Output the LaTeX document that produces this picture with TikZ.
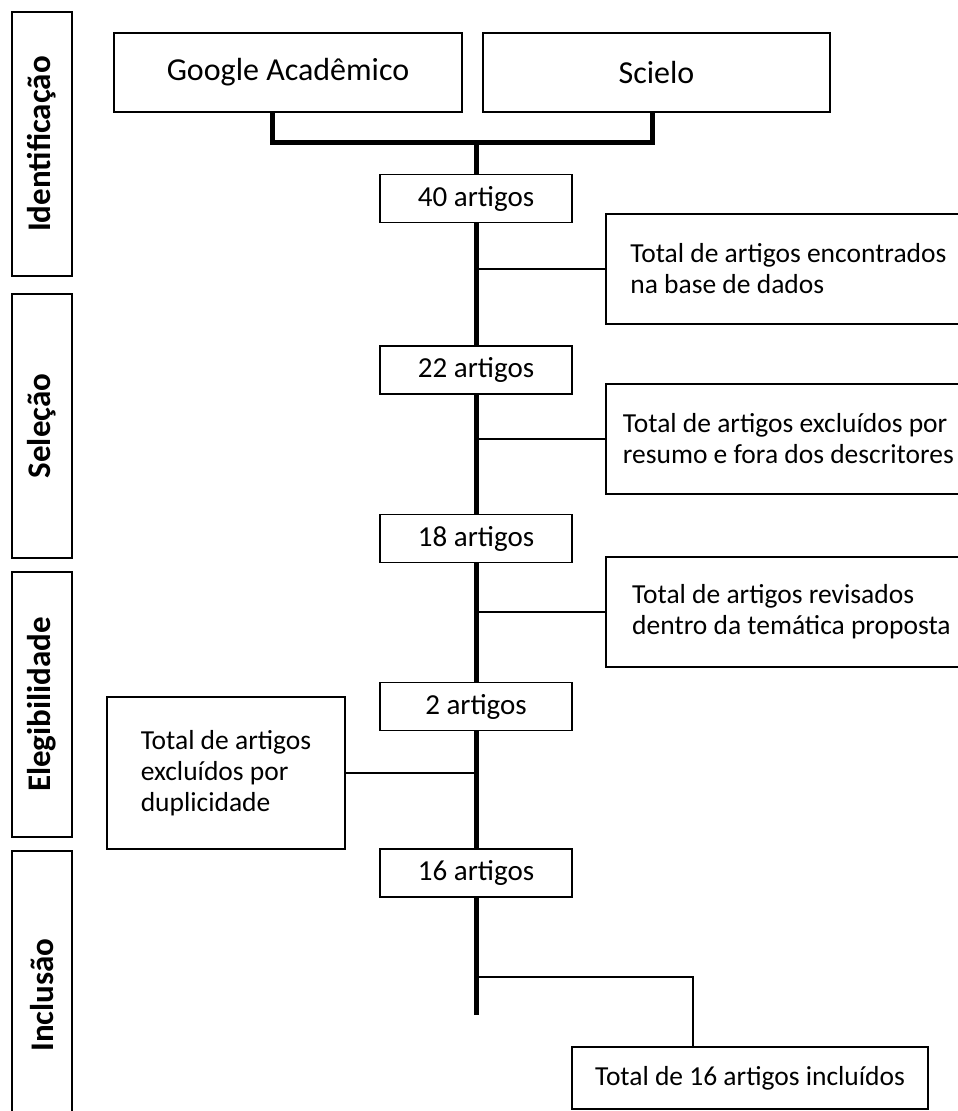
\documentclass[tikz,border=0pt]{standalone}
\usepackage{fontspec}
\setmainfont{Carlito}
\usetikzlibrary{calc}

\begin{document}
\begin{tikzpicture}[x=1pt, y=-1pt,
    srcbox/.style={draw, line width=1.8pt, minimum width=347pt, minimum height=79pt, font=\fontsize{32}{38}\selectfont},
    countbox/.style={draw, fill=white, line width=1.8pt, minimum width=192pt, minimum height=48pt, font=\fontsize{29}{34}\selectfont},
    notebox/.style={draw, fill=white, line width=1.8pt, align=left, font=\fontsize{27.5}{31}\selectfont},
    phasebox/.style={draw, line width=1.8pt, rotate=90, minimum height=60pt, font=\bfseries\fontsize{33}{38}\selectfont},
    trunk/.style={line width=5pt},
    twig/.style={line width=1.8pt}]

    % page size of the original figure
    \useasboundingbox (0,0) rectangle (958,1111);
    \clip (0,0) rectangle (958,1111);

    % phases on the left
    \node[phasebox, minimum width=264pt] (ident) at (42,144) {Identificação};
    \node[phasebox, minimum width=264pt] (selec) at (42,426) {Seleção};
    \node[phasebox, minimum width=265pt] (elegi) at (42,704.5) {Elegibilidade};
    \node[phasebox, minimum width=288pt] (inclu) at (42,995) {Inclusão};

    % databases
    \node[srcbox, minimum width=348pt] (google) at (288,72.5) {Google Acadêmico};
    \node[srcbox] (scielo) at (656.5,72.5) {Scielo};

    \coordinate (gstem) at (272,142);
    \coordinate (sstem) at (652,142);
    \coordinate (jn) at (476,142);
    \coordinate (tail) at (476,1015);
    \draw[trunk] (gstem |- google.south) -- (gstem) -- (sstem) -- (sstem |- scielo.south);

    % counts along the main line
    \node[countbox] (n40) at (476,198.5) {40 artigos};
    \node[countbox] (n22) at (476,370) {22 artigos};
    \node[countbox] (n18) at (476,538.5) {18 artigos};
    \node[countbox] (n2) at (476,706.5) {2 artigos};
    \node[countbox] (n16) at (476,873) {16 artigos};
    \draw[trunk] (jn) -- (n40) -- (n22) -- (n18) -- (n2) -- (n16) -- (tail);

    % notes
    \node[notebox, anchor=west, minimum width=365pt, minimum height=110pt] (found) at (605,269) {Total de artigos encontrados\\na base de dados};
    \node[notebox, anchor=west, minimum width=365pt, minimum height=110pt] (excl) at (605,439) {Total de artigos excluídos por\\resumo e fora dos descritores};
    \node[notebox, anchor=west, minimum width=371pt, minimum height=110pt] (revis) at (605,612) {Total de artigos revisados\\dentro da temática proposta};
    \node[notebox, minimum width=238pt, minimum height=152pt] (dupl) at (226,773) {Total de artigos\\excluídos por\\duplicidade};
    \node[notebox, minimum width=356pt, minimum height=62pt] (final) at (750,1078) {Total de 16 artigos incluídos};

    \draw[twig] (found.west) -- (found.west -| jn);
    \draw[twig] (excl.west) -- (excl.west -| jn);
    \draw[twig] (revis.west) -- (revis.west -| jn);
    \draw[twig] (dupl.east) -- (dupl.east -| jn);

    \coordinate (fstem) at (693,977);
    \draw[twig] (fstem -| jn) -- (fstem) -- (fstem |- final.north);

\end{tikzpicture}
\end{document}
